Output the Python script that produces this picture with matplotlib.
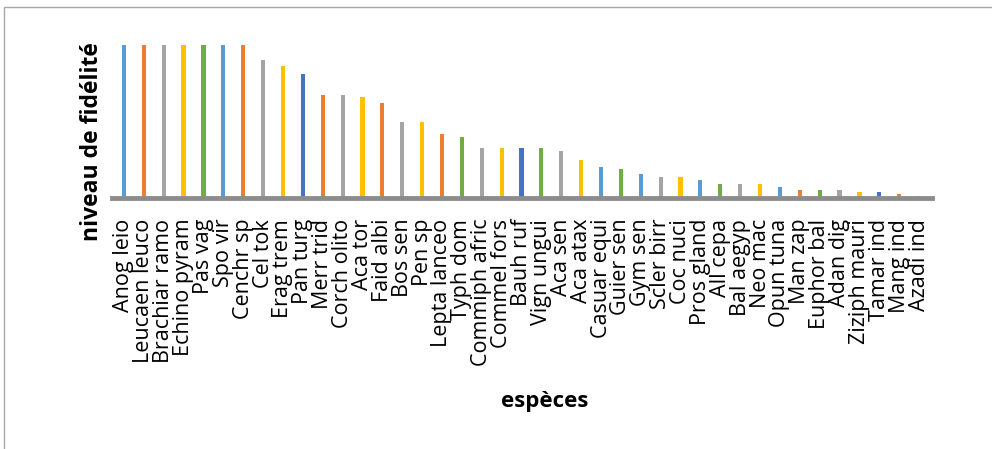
import matplotlib
matplotlib.use("Agg")
import matplotlib.pyplot as plt
from matplotlib.patches import Rectangle

especes = [
    "Anog leio", "Leucaen leuco", "Brachiar ramo", "Echino pyram", "Pas vag",
    "Spo vir", "Cenchr sp", "Cel tok", "Erag trem", "Pan turg", "Merr trid",
    "Corch olito", "Aca tor", "Faid albi", "Bos sen", "Pen sp", "Lepta lanceo",
    "Typh dom", "Commiph afric", "Commel fors", "Bauh ruf", "Vign ungui",
    "Aca sen", "Aca atax", "Casuar equi", "Guier sen", "Gym sen", "Scler birr",
    "Coc nuci", "Pros gland", "All cepa", "Bal aegyp", "Neo mac", "Opun tuna",
    "Man zap", "Euphor bal", "Adan dig", "Ziziph mauri", "Tamar ind",
    "Mang ind", "Azadi ind",
]

fidelite = [
    100, 100, 100, 100, 100, 100, 100, 90, 86, 81, 67, 67, 66, 62, 50, 50, 42,
    40, 33, 33, 33, 33, 31, 25, 20, 19, 15.5, 14, 14, 12, 9, 9, 9, 7, 5.5, 5,
    5, 3.7, 3.7, 2.4, 1.5,
]

couleurs = [
    "#5B9BD5", "#ED7D31", "#A5A5A5", "#FFC000", "#70AD47", "#5B9BD5",
    "#ED7D31", "#A5A5A5", "#FFC000", "#4472C4", "#ED7D31", "#A5A5A5",
    "#FFC000", "#ED7D31", "#A5A5A5", "#FFC000", "#ED7D31", "#70AD47",
    "#A5A5A5", "#FFC000", "#4472C4", "#70AD47", "#A5A5A5", "#FFC000",
    "#5B9BD5", "#70AD47", "#5B9BD5", "#A5A5A5", "#FFC000", "#5B9BD5",
    "#70AD47", "#A5A5A5", "#FFC000", "#5B9BD5", "#ED7D31", "#70AD47",
    "#A5A5A5", "#FFC000", "#4472C4", "#ED7D31", "#A5A5A5",
]

W, H = 992, 449
fig = plt.figure(figsize=(W / 100, H / 100), dpi=100)

# chart frame (runs off the right and bottom edges)
fig.patches.append(Rectangle((3.5 / W, -0.5), 2.0, (H - 6.5) / H + 0.5,
                             transform=fig.transFigure, fill=False,
                             edgecolor="#A6A6A6", linewidth=1.0))

ax = fig.add_axes([112 / W, (H - 198) / H, (932 - 112) / W, (198 - 45) / H])
x = list(range(len(especes)))
ax.bar(x, fidelite, width=0.21, color=couleurs, zorder=2)
ax.set_xlim(-0.6, len(especes) - 0.35)
ax.set_ylim(0, 100)

for s in ["top", "right", "left"]:
    ax.spines[s].set_visible(False)
ax.spines["bottom"].set_color("#8C8C8C")
ax.spines["bottom"].set_linewidth(3.5)
ax.set_yticks([])
ax.set_xticks(x)
ax.set_xticklabels(especes, rotation=90, fontsize=15.5,
                   family=["Open Sans", "DejaVu Sans"])
ax.tick_params(axis="x", length=0, pad=15)

fig.text(92 / W, 1 - 142 / H, "niveau de fidélité", rotation=90,
         ha="center", va="center", fontsize=16.5, fontweight="bold",
         family=["Open Sans", "DejaVu Sans"])
fig.text(545 / W, 1 - 401 / H, "espèces", ha="center", va="center",
         fontsize=16, fontweight="bold", family=["Open Sans", "DejaVu Sans"])

fig.savefig("out.png", dpi=100)
